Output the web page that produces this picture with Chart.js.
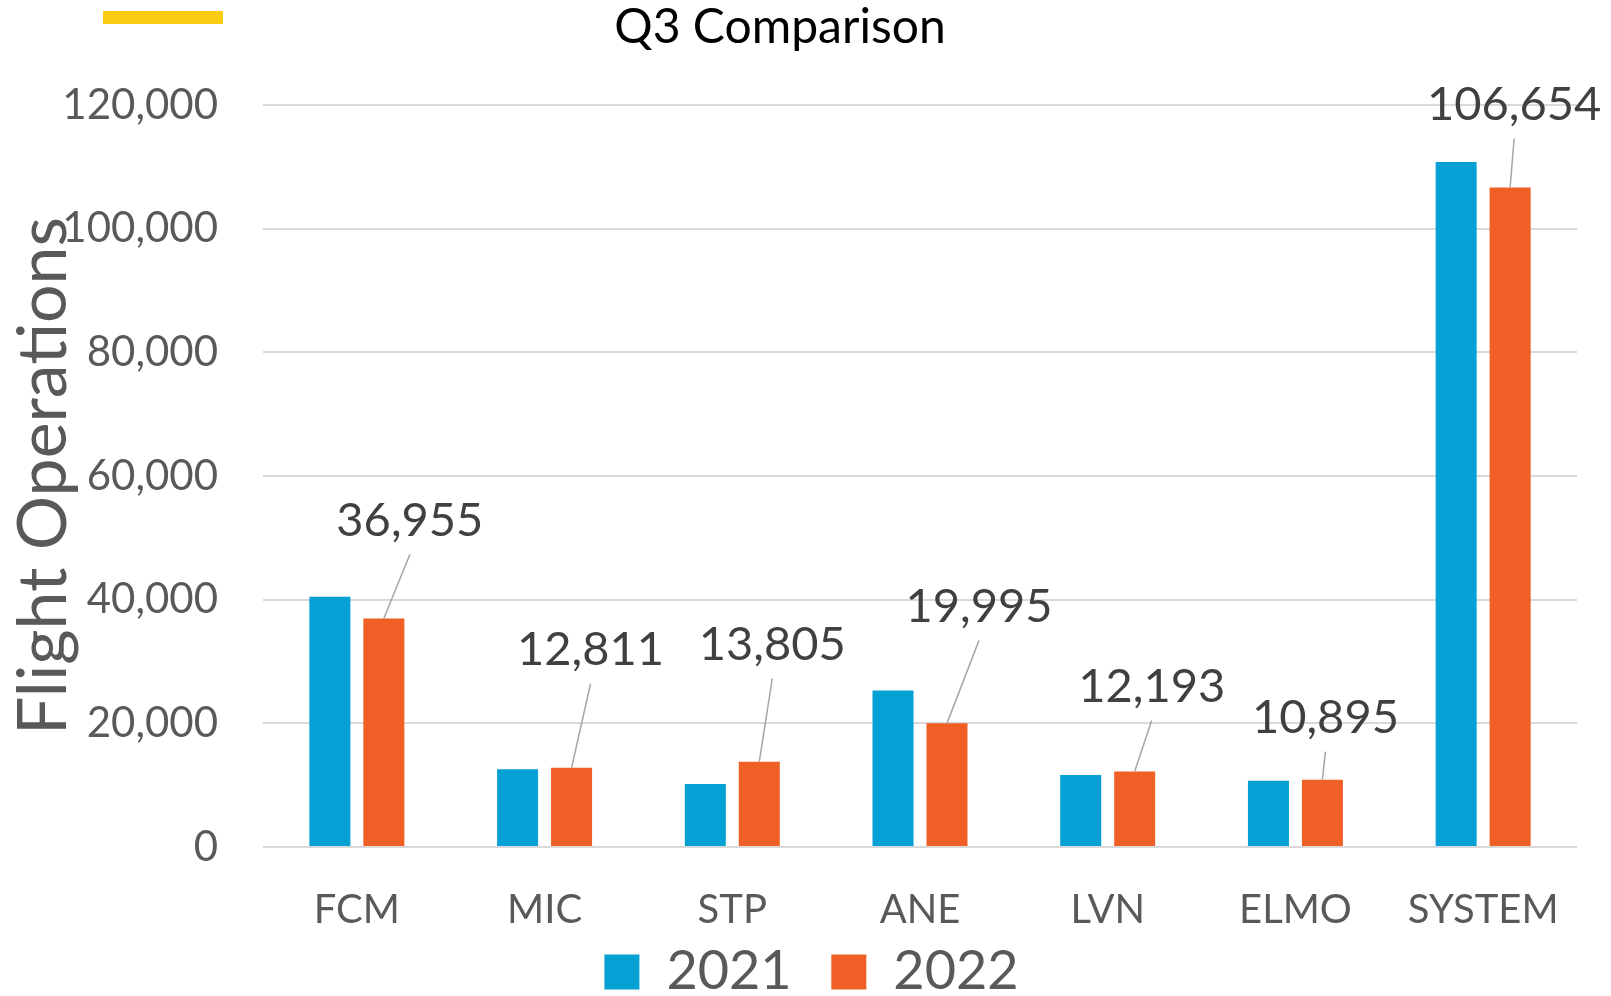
<!DOCTYPE html>
<html>
<head>
<meta charset="utf-8">
<script src="https://cdn.jsdelivr.net/npm/chart.js@4.4.0/dist/chart.umd.min.js"></script>
<style>
    html, body { margin: 0; padding: 0; background: #fff; }
</style>
</head>
<body>
<canvas id="grafico" width="1611" height="996"></canvas>
<script>
// Dados do gráfico
const categorias = ['FCM', 'MIC', 'STP', 'ANE', 'LVN', 'ELMO', 'SYSTEM'];
const valores2021 = [40470, 12560, 10190, 25320, 11640, 10720, 110800];
const valores2022 = [36955, 12811, 13805, 19995, 12193, 10895, 106654];
const anos = ['2021', '2022'];
const yMax = 120000;
const yPasso = 20000;

// deslocamento dos rótulos em relação ao topo da barra de 2022
const rotuloDesloc = [[26, -98], [19, -118], [13, -117], [32, -117], [17, -85], [3, -62], [4, -83]];

Chart.defaults.font.family = 'Lato';

// Título, barra amarela e rótulos com linha guia
const extras = {
    id: 'extras',
    afterDraw(chart) {
        const ctx = chart.ctx;
        ctx.save();
        ctx.fillStyle = '#F9CB11';
        ctx.fillRect(103, 11, 120, 13);

        ctx.fillStyle = '#000';
        ctx.font = '48px Lato';
        ctx.textAlign = 'center';
        ctx.textBaseline = 'middle';
        ctx.fillText('Q3 Comparison', 780, 28);

        const meta = chart.getDatasetMeta(1);
        meta.data.forEach((barra, i) => {
            const lx = barra.x + rotuloDesloc[i][0];
            const ly = barra.y + rotuloDesloc[i][1];
            ctx.strokeStyle = '#A6A6A6';
            ctx.lineWidth = 1.5;
            ctx.beginPath();
            ctx.moveTo(lx, ly + 34);
            ctx.lineTo(barra.x, barra.y);
            ctx.stroke();
            ctx.fillStyle = '#404040';
            ctx.font = '47px Lato';
            ctx.fillText(valores2022[i].toLocaleString('en-US'), lx, ly);
        });
        ctx.restore();
    }
};

new Chart(document.getElementById('grafico'), {
    type: 'bar',
    data: {
        labels: categorias,
        datasets: [{
            label: anos[0],
            data: valores2021,
            backgroundColor: '#05A0D4',
            categoryPercentage: 0.575,
            barPercentage: 0.76
        }, {
            label: anos[1],
            data: valores2022,
            backgroundColor: '#F05F25',
            categoryPercentage: 0.575,
            barPercentage: 0.76
        }]
    },
    options: {
        responsive: false,
        animation: false,
        layout: { padding: { top: 105, right: 34, bottom: -13, left: 46 } },
        plugins: {
            legend: {
                position: 'bottom',
                labels: {
                    color: '#595959',
                    font: { size: 54 },
                    boxWidth: 35,
                    boxHeight: 35,
                    padding: 12,
                    // espaço extra entre os dois itens
                    generateLabels(chart) {
                        const itens = Chart.defaults.plugins.legend.labels.generateLabels(chart);
                        itens[0].text += '  ';
                        return itens;
                    }
                }
            },
            tooltip: { enabled: false }
        },
        scales: {
            x: {
                grid: { display: false },
                border: { display: false },
                ticks: { color: '#595959', font: { size: 40 }, padding: 31 },
                afterFit(scale) { scale.height = 86; }
            },
            y: {
                min: 0,
                max: yMax,
                grid: { color: '#D9D9D9', lineWidth: 2, drawTicks: false },
                border: { display: false },
                ticks: {
                    stepSize: yPasso,
                    color: '#595959',
                    font: { size: 42 },
                    padding: 45,
                    callback: v => v.toLocaleString('en-US')
                },
                title: {
                    display: true,
                    text: 'Flight Operations',
                    color: '#595959',
                    font: { size: 68 },
                    padding: { top: -43, bottom: 0 }
                },
                afterFit(scale) { scale.width = 217; }
            }
        }
    },
    plugins: [extras]
});
</script>
</body>
</html>
